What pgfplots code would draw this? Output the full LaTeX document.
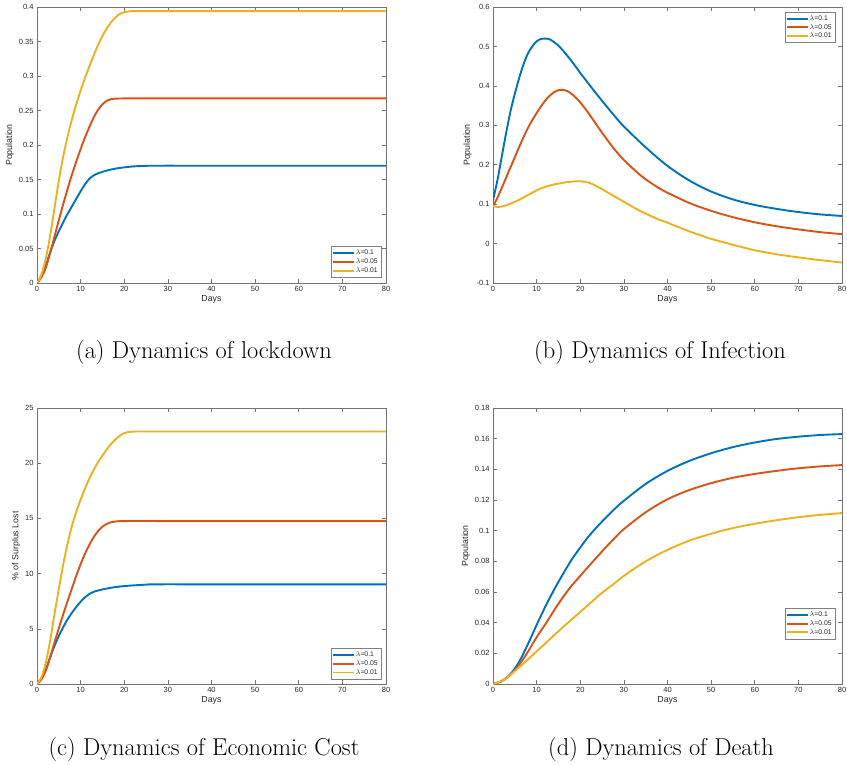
\documentclass[border=0pt]{standalone}
\usepackage{fontspec}
\usepackage{pgfplots}
\pgfplotsset{compat=1.18}
\newfontfamily\arial{Liberation Sans}
\definecolor{mblue}{rgb}{0,0.447,0.741}
\definecolor{mred}{rgb}{0.85,0.325,0.098}
\definecolor{myellow}{rgb}{0.929,0.694,0.125}
\pgfplotsset{
  mstyle/.style={
    scale only axis, width=349pt, height=276pt,
    xmin=0, xmax=80, xtick={0,10,...,80},
    axis line style={black!55, line width=0.6pt},
    every tick/.style={black!55, line width=0.6pt},
    tick align=inside, major tick length=4pt,
    /pgf/number format/assume math mode=true,
    tick label style={font=\arial\fontsize{7.5}{9}\selectfont, text=black!85},
    label style={font=\arial\fontsize{8.8}{10}\selectfont, text=black!85},
    xlabel={Days},
    scaled y ticks=false,
    yticklabel style={/pgf/number format/fixed, /pgf/number format/precision=2},
    xlabel style={yshift=3pt},
    ylabel style={yshift=-2pt},
    legend cell align=left,
    legend style={font=\arial\fontsize{6.8}{7.5}\selectfont, draw=black!50, inner sep=1.2pt, row sep=-1.5pt, text=black!85},
    legend image code/.code={\fill[#1, draw=none] (0pt,-0.95pt) rectangle (21pt,0.95pt);},
    every axis plot/.append style={line width=1.9pt, smooth},
  }
}
\begin{document}
\begin{tikzpicture}
\path[use as bounding box] (0,0) rectangle (847pt,-764pt);
% (a) lockdown
\begin{axis}[mstyle, at={(37pt,-283pt)}, anchor=south west,
  ymin=0, ymax=0.4, ytick={0,0.05,0.1,0.15,0.2,0.25,0.3,0.35,0.4},
  ylabel={Population},
  legend style={at={(0.986,0.021)}, anchor=south east}]
\addplot[mblue] coordinates {(0,0) (1,0.01) (2,0.025) (3,0.044) (4,0.061) (5,0.075) (6,0.088) (7,0.1) (8,0.111) (9,0.122) (10,0.133) (11,0.143) (12,0.151) (13,0.156) (14,0.159) (15,0.161) (16,0.163) (17,0.1645) (18,0.1658) (19,0.1668) (20,0.1676) (22,0.169) (25,0.1698) (27,0.170) (40,0.170) (60,0.170) (80,0.170)};
\addplot[mred] coordinates {(0,0) (1,0.008) (2,0.022) (3,0.043) (4,0.067) (5,0.091) (6,0.114) (7,0.136) (8,0.157) (9,0.176) (10,0.194) (11,0.211) (12,0.226) (13,0.240) (14,0.251) (15,0.259) (16,0.264) (17,0.2665) (18,0.2672) (20,0.2675) (25,0.2675) (40,0.2675) (60,0.2675) (80,0.2675)};
\addplot[myellow] coordinates {(0,0) (1,0.012) (2,0.035) (3,0.068) (4,0.108) (5,0.148) (6,0.183) (7,0.212) (8,0.237) (9,0.259) (10,0.279) (11,0.297) (12,0.314) (13,0.330) (14,0.345) (15,0.358) (16,0.369) (17,0.378) (18,0.385) (19,0.39) (20,0.3925) (21,0.3935) (22,0.394) (30,0.394) (40,0.394) (60,0.394) (80,0.394)};
\legend{$\lambda$=0.1,$\lambda$=0.05,$\lambda$=0.01}
\end{axis}
% (b) infection
\begin{axis}[mstyle, at={(493pt,-283pt)}, anchor=south west,
  ymin=-0.1, ymax=0.6, ytick={-0.1,0,0.1,0.2,0.3,0.4,0.5,0.6},
  ylabel={Population},
  legend style={at={(0.98,0.982)}, anchor=north east}]
\addplot[mblue] coordinates {(0,0.11) (1,0.16) (2,0.22) (3,0.28) (4,0.335) (5,0.38) (6,0.42) (7,0.455) (8,0.482) (9,0.50) (10,0.513) (11,0.519) (12,0.52) (13,0.518) (14,0.511) (15,0.502) (16,0.49) (18,0.463) (20,0.433) (22,0.404) (25,0.362) (28,0.322) (30,0.297) (35,0.244) (40,0.197) (45,0.160) (50,0.132) (55,0.112) (60,0.098) (65,0.088) (70,0.080) (75,0.074) (80,0.07)};
\addplot[mred] coordinates {(0,0.095) (1,0.116) (2,0.141) (3,0.167) (4,0.193) (5,0.219) (6,0.245) (7,0.27) (8,0.293) (9,0.313) (10,0.331) (11,0.348) (12,0.363) (13,0.375) (14,0.384) (15,0.389) (16,0.39) (17,0.387) (18,0.38) (19,0.37) (20,0.358) (21,0.344) (22,0.329) (23,0.313) (24,0.297) (25,0.281) (26,0.266) (27,0.251) (28,0.237) (30,0.212) (33,0.181) (35,0.163) (38,0.141) (40,0.129) (45,0.103) (50,0.083) (55,0.067) (60,0.054) (65,0.044) (70,0.036) (75,0.029) (80,0.024)};
\addplot[myellow] coordinates {(0,0.095) (1,0.093) (2,0.094) (3,0.097) (4,0.101) (5,0.106) (6,0.111) (7,0.117) (8,0.123) (9,0.129) (10,0.135) (11,0.14) (12,0.144) (13,0.147) (14,0.15) (15,0.152) (16,0.154) (17,0.156) (18,0.157) (19,0.158) (20,0.158) (21,0.157) (22,0.154) (23,0.15) (24,0.144) (25,0.138) (27,0.125) (30,0.106) (33,0.087) (35,0.076) (38,0.061) (40,0.053) (45,0.031) (50,0.012) (55,-0.003) (60,-0.017) (65,-0.027) (70,-0.035) (75,-0.042) (80,-0.048)};
\legend{$\lambda$=0.1,$\lambda$=0.05,$\lambda$=0.01}
\end{axis}
% (c) economic cost
\begin{axis}[mstyle, at={(37pt,-684pt)}, anchor=south west,
  ymin=0, ymax=25, ytick={0,5,10,15,20,25},
  ylabel={\% of Surplus Lost},
  legend style={at={(0.986,0.018)}, anchor=south east}]
\addplot[mblue] coordinates {(0,0) (1,0.5) (2,1.3) (3,2.4) (4,3.45) (5,4.35) (6,5.15) (7,5.85) (8,6.45) (9,6.98) (10,7.45) (11,7.85) (12,8.15) (13,8.35) (14,8.47) (15,8.57) (16,8.65) (17,8.72) (18,8.78) (19,8.83) (20,8.87) (22,8.93) (25,9.0) (27,9.03) (40,9.03) (60,9.03) (80,9.03)};
\addplot[mred] coordinates {(0,0) (1,0.4) (2,1.2) (3,2.4) (4,3.75) (5,5.05) (6,6.3) (7,7.5) (8,8.65) (9,9.8) (10,10.85) (11,11.8) (12,12.6) (13,13.3) (14,13.85) (15,14.25) (16,14.5) (17,14.65) (18,14.72) (20,14.76) (30,14.76) (40,14.76) (60,14.76) (80,14.76)};
\addplot[myellow] coordinates {(0,0) (1,0.6) (2,1.9) (3,3.9) (4,6.3) (5,8.6) (6,10.8) (7,12.7) (8,14.3) (9,15.6) (10,16.7) (11,17.7) (12,18.6) (13,19.4) (14,20.1) (15,20.7) (16,21.25) (17,21.75) (18,22.15) (19,22.5) (20,22.72) (21,22.83) (22,22.86) (24,22.87) (40,22.87) (60,22.87) (80,22.87)};
\legend{$\lambda$=0.1,$\lambda$=0.05,$\lambda$=0.01}
\end{axis}
% (d) death
\begin{axis}[mstyle, at={(493pt,-684pt)}, anchor=south west,
  ymin=0, ymax=0.18, ytick={0,0.02,0.04,0.06,0.08,0.1,0.12,0.14,0.16,0.18},
  ylabel={Population},
  legend style={at={(0.98,0.163)}, anchor=south east}]
\addplot[mblue] coordinates {(0,0) (2,0.002) (4,0.0065) (6,0.0145) (8,0.026) (10,0.0385) (12,0.0505) (14,0.0615) (16,0.0715) (18,0.081) (20,0.089) (22,0.0965) (25,0.106) (28,0.1145) (30,0.1195) (35,0.1305) (40,0.139) (45,0.1455) (50,0.1505) (55,0.1545) (60,0.1575) (65,0.1598) (70,0.1613) (75,0.1624) (80,0.163)};
\addplot[mred] coordinates {(0,0) (2,0.0018) (4,0.006) (6,0.0125) (8,0.021) (10,0.0305) (12,0.039) (14,0.048) (16,0.0565) (18,0.064) (20,0.0705) (22,0.077) (25,0.0865) (28,0.0955) (30,0.101) (35,0.112) (40,0.1205) (45,0.1265) (50,0.131) (55,0.1345) (60,0.137) (65,0.139) (70,0.1407) (75,0.1419) (80,0.1428)};
\addplot[myellow] coordinates {(0,0) (2,0.002) (4,0.006) (6,0.011) (8,0.016) (10,0.0213) (12,0.0265) (14,0.0318) (16,0.037) (18,0.042) (20,0.047) (22,0.052) (25,0.0595) (28,0.066) (30,0.0705) (35,0.08) (40,0.0875) (45,0.0935) (50,0.098) (55,0.1017) (60,0.1045) (65,0.1068) (70,0.1088) (75,0.1103) (80,0.1115)};
\legend{$\lambda$=0.1,$\lambda$=0.05,$\lambda$=0.01}
\end{axis}
\node[font=\fontsize{24.4}{29}\selectfont, anchor=base] at (204pt,-358pt) {(a) Dynamics of lockdown};
\node[font=\fontsize{24.4}{29}\selectfont, anchor=base] at (660pt,-358pt) {(b) Dynamics of Infection};
\node[font=\fontsize{24.4}{29}\selectfont, anchor=base] at (204pt,-755pt) {(c) Dynamics of Economic Cost};
\node[font=\fontsize{24.4}{29}\selectfont, anchor=base] at (661pt,-755pt) {(d) Dynamics of Death};
\end{tikzpicture}
\end{document}
